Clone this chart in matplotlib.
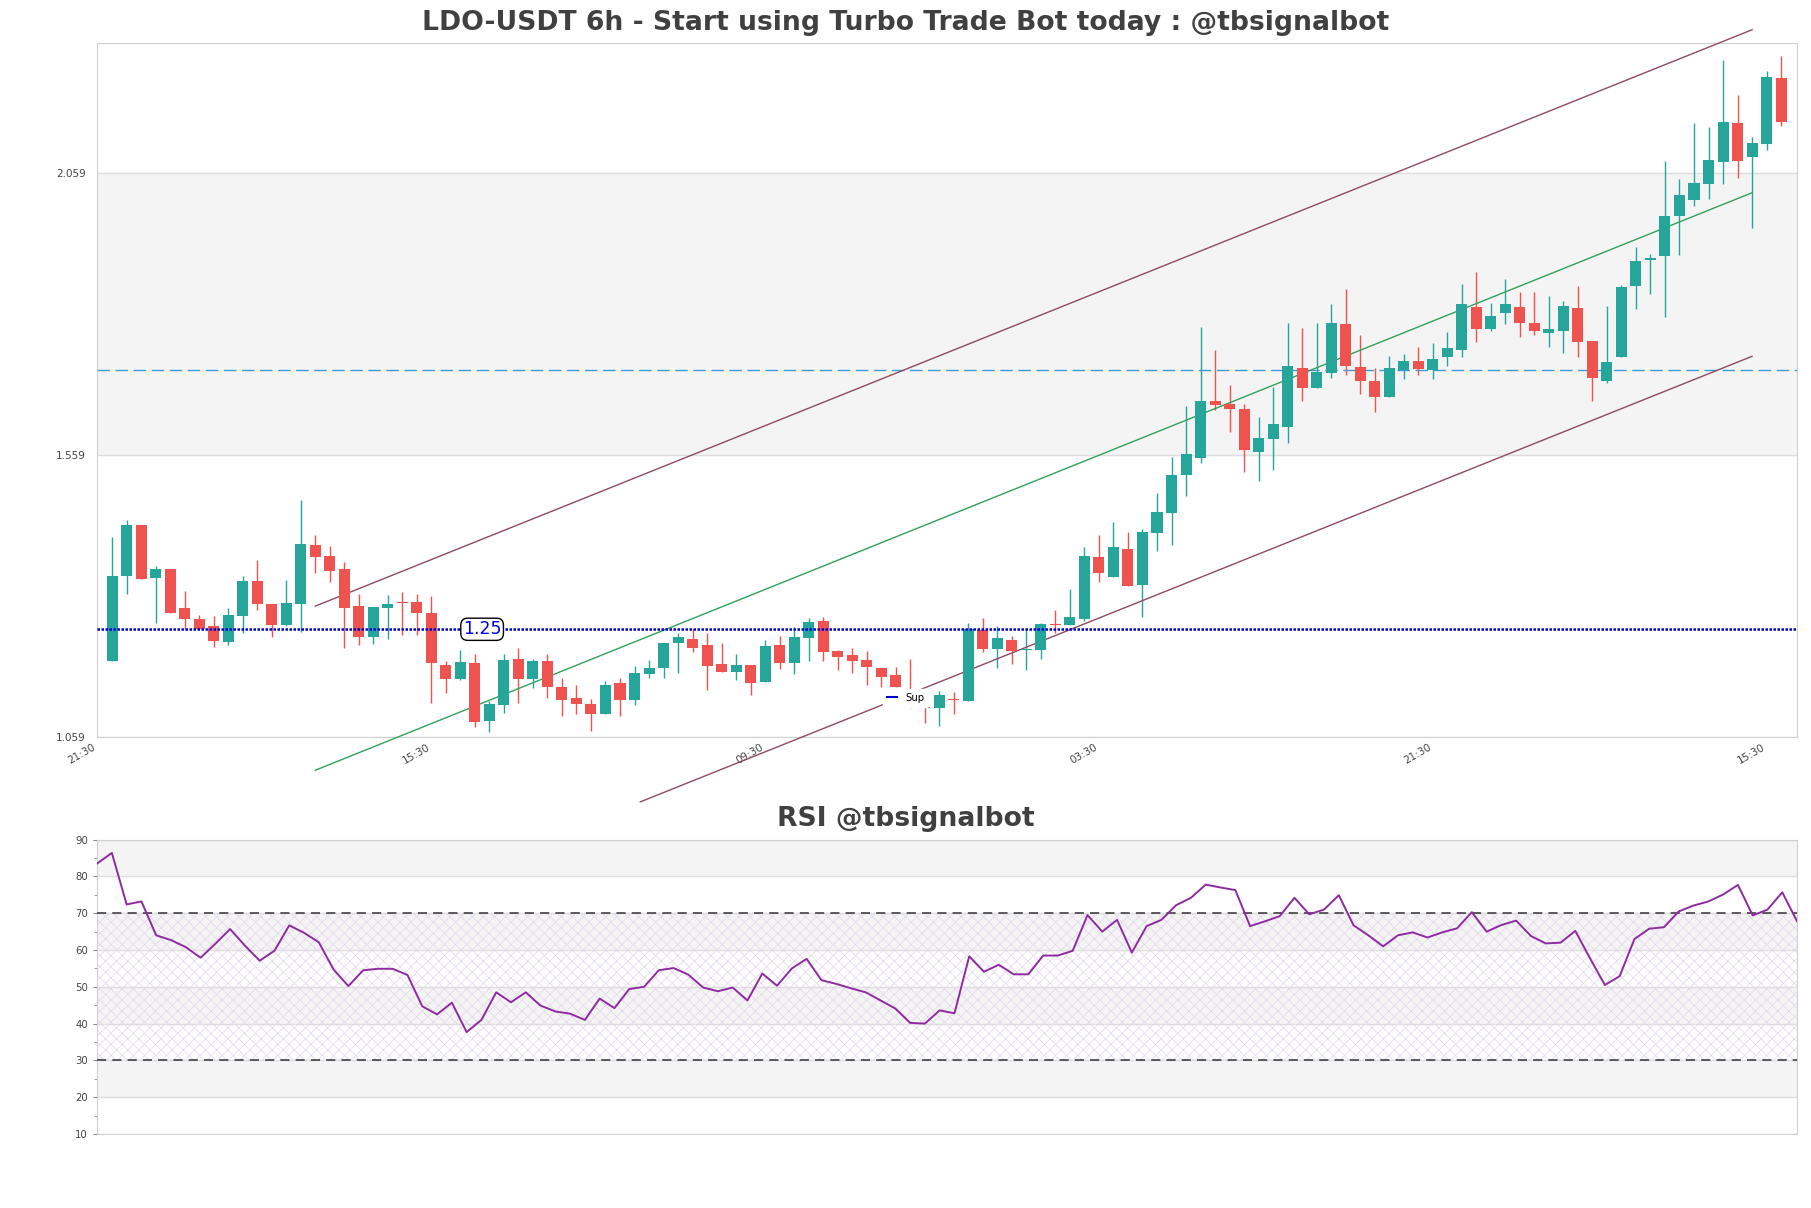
import numpy as np
import matplotlib
matplotlib.use("Agg")
import matplotlib.pyplot as plt
from matplotlib.lines import Line2D

plt.rcParams['hatch.linewidth'] = 0.5

# 6h candles
opens = [1.194, 1.345, 1.435, 1.341, 1.357, 1.288, 1.269, 1.256, 1.228, 1.274,
         1.336, 1.295, 1.258, 1.295, 1.399, 1.380, 1.356, 1.291, 1.236, 1.288,
         1.298, 1.298, 1.279, 1.187, 1.161, 1.190, 1.088, 1.116, 1.197, 1.161,
         1.193, 1.148, 1.128, 1.118, 1.100, 1.154, 1.125, 1.171, 1.181, 1.226,
         1.232, 1.222, 1.188, 1.175, 1.187, 1.157, 1.222, 1.191, 1.235, 1.265,
         1.211, 1.204, 1.196, 1.181, 1.169, 1.134, 1.112, 1.111, 1.127, 1.122,
         1.249, 1.215, 1.231, 1.213, 1.213, 1.259, 1.258, 1.268, 1.378, 1.343,
         1.392, 1.329, 1.420, 1.456, 1.524, 1.554, 1.655, 1.649, 1.641, 1.565,
         1.588, 1.609, 1.713, 1.678, 1.705, 1.791, 1.715, 1.691, 1.662, 1.710,
         1.725, 1.710, 1.733, 1.746, 1.821, 1.782, 1.810, 1.822, 1.793, 1.775,
         1.778, 1.820, 1.761, 1.691, 1.732, 1.859, 1.905, 1.911, 1.982, 2.011,
         2.040, 2.079, 2.147, 2.088, 2.111, 2.228]
highs = [1.414, 1.444, 1.435, 1.362, 1.357, 1.318, 1.275, 1.274, 1.288, 1.344,
         1.373, 1.295, 1.337, 1.479, 1.417, 1.398, 1.369, 1.312, 1.290, 1.311,
         1.316, 1.313, 1.309, 1.193, 1.213, 1.206, 1.122, 1.206, 1.217, 1.197,
         1.207, 1.163, 1.152, 1.127, 1.159, 1.163, 1.185, 1.196, 1.226, 1.244,
         1.250, 1.243, 1.226, 1.206, 1.187, 1.231, 1.238, 1.254, 1.270, 1.272,
         1.214, 1.216, 1.211, 1.181, 1.184, 1.197, 1.112, 1.141, 1.139, 1.262,
         1.270, 1.256, 1.238, 1.252, 1.261, 1.284, 1.321, 1.396, 1.417, 1.440,
         1.423, 1.428, 1.492, 1.556, 1.646, 1.786, 1.745, 1.683, 1.649, 1.627,
         1.679, 1.793, 1.784, 1.793, 1.827, 1.854, 1.772, 1.713, 1.735, 1.738,
         1.751, 1.757, 1.777, 1.862, 1.883, 1.828, 1.871, 1.848, 1.848, 1.841,
         1.832, 1.859, 1.761, 1.823, 1.860, 1.927, 1.915, 2.080, 2.048, 2.147,
         2.140, 2.259, 2.197, 2.122, 2.239, 2.266]
lows = [1.194, 1.313, 1.340, 1.262, 1.278, 1.250, 1.251, 1.219, 1.223, 1.243,
        1.285, 1.236, 1.256, 1.245, 1.350, 1.333, 1.216, 1.223, 1.224, 1.233,
        1.239, 1.239, 1.120, 1.137, 1.160, 1.077, 1.068, 1.102, 1.119, 1.146,
        1.129, 1.097, 1.099, 1.069, 1.100, 1.097, 1.115, 1.164, 1.163, 1.172,
        1.210, 1.142, 1.174, 1.160, 1.134, 1.157, 1.180, 1.170, 1.194, 1.194,
        1.177, 1.173, 1.152, 1.148, 1.148, 1.110, 1.084, 1.079, 1.099, 1.122,
        1.210, 1.181, 1.188, 1.178, 1.197, 1.243, 1.258, 1.265, 1.334, 1.342,
        1.326, 1.271, 1.389, 1.399, 1.487, 1.544, 1.639, 1.600, 1.528, 1.513,
        1.532, 1.580, 1.655, 1.677, 1.695, 1.700, 1.668, 1.636, 1.662, 1.693,
        1.700, 1.693, 1.717, 1.733, 1.760, 1.778, 1.791, 1.768, 1.772, 1.750,
        1.740, 1.732, 1.655, 1.686, 1.732, 1.817, 1.845, 1.804, 1.914, 2.001,
        2.013, 2.040, 2.051, 1.962, 2.099, 2.143]
closes = [1.345, 1.435, 1.340, 1.357, 1.279, 1.269, 1.251, 1.230, 1.275, 1.336,
          1.295, 1.258, 1.297, 1.401, 1.379, 1.354, 1.288, 1.237, 1.290, 1.294,
          1.296, 1.278, 1.190, 1.161, 1.192, 1.086, 1.118, 1.196, 1.161, 1.193,
          1.148, 1.125, 1.118, 1.099, 1.151, 1.124, 1.173, 1.181, 1.226, 1.236,
          1.217, 1.185, 1.175, 1.187, 1.155, 1.220, 1.191, 1.236, 1.263, 1.210,
          1.201, 1.194, 1.184, 1.166, 1.148, 1.125, 1.111, 1.133, 1.125, 1.250,
          1.215, 1.234, 1.212, 1.215, 1.259, 1.257, 1.272, 1.380, 1.350, 1.395,
          1.327, 1.423, 1.458, 1.524, 1.561, 1.655, 1.648, 1.641, 1.567, 1.589,
          1.614, 1.717, 1.678, 1.706, 1.793, 1.716, 1.691, 1.662, 1.713, 1.725,
          1.712, 1.730, 1.748, 1.827, 1.782, 1.805, 1.826, 1.793, 1.778, 1.783,
          1.823, 1.760, 1.696, 1.724, 1.856, 1.903, 1.908, 1.983, 2.020, 2.041,
          2.082, 2.150, 2.081, 2.113, 2.229, 2.150]

rsi = [83.5, 86.4, 72.4, 73.2, 64.0, 62.7, 60.8, 57.9, 61.7, 65.7,
       61.2, 57.1, 59.8, 66.7, 64.7, 62.1, 54.7, 50.2, 54.5, 54.9,
       54.9, 53.2, 44.7, 42.5, 45.7, 37.7, 41.0, 48.5, 45.8, 48.5,
       44.9, 43.3, 42.7, 41.0, 46.8, 44.2, 49.4, 50.0, 54.5, 55.1,
       53.3, 49.8, 48.8, 49.8, 46.3, 53.6, 50.3, 55.0, 57.6, 51.8,
       50.8, 49.6, 48.5, 46.3, 44.1, 40.2, 40.0, 43.6, 42.8, 58.3,
       54.1, 56.0, 53.4, 53.4, 58.5, 58.5, 59.8, 69.5, 65.0, 68.2,
       59.3, 66.5, 68.2, 72.2, 74.2, 77.8, 77.0, 76.3, 66.5, 67.8,
       69.2, 74.2, 69.7, 71.0, 74.9, 66.7, 64.0, 61.0, 64.0, 64.8,
       63.4, 64.8, 65.9, 70.3, 65.0, 66.8, 68.0, 63.8, 61.8, 62.0,
       65.2, 57.7, 50.5, 52.9, 63.0, 65.8, 66.2, 70.5, 72.1, 73.2,
       75.1, 77.7, 69.4, 71.0, 75.7, 67.8]

# levels / trend channel
support = 1.25
resistance = 1.7097
chan_x = [14, 113]
chan_mid = [1.000, 2.024]
chan_up = [1.291, 2.313]
chan_low_x = [36.4, 113]
chan_low = [0.944, 1.734]

price_ticks = [1.059, 1.559, 2.059]
tick_pos = [-1, 22, 45, 68, 91, 114]
tick_lbl = ['21:30', '15:30', '09:30', '03:30', '21:30', '15:30']
rsi_ticks = [10, 20, 30, 40, 50, 60, 70, 80, 90]

UP, DOWN = '#26a69a', '#ef5350'
GRID = '#dedede'
SPINE = '#d0d0d0'
BAND = '#f4f4f4'
TXT = '#444444'

fig = plt.figure(figsize=(18.11, 12.08), dpi=100)
ax = fig.add_axes([0.0536, 0.3899, 0.9387, 0.5745])
ax2 = fig.add_axes([0.0536, 0.0613, 0.9387, 0.2436])

o = np.array(opens); h = np.array(highs); l = np.array(lows); c = np.array(closes)
x = np.arange(len(o))
col = np.where(c >= o, UP, DOWN)

ax.axhspan(1.559, 2.059, color=BAND, zorder=0)
ax.vlines(x, l, h, colors=col, lw=1.0, zorder=3)
body = np.maximum(np.abs(c - o), 0.002)
ax.bar(x, body, bottom=np.minimum(o, c), width=0.76, color=col, lw=0, zorder=4)

ax.axhline(support, color='#0000cc', lw=1.8, ls=(0, (1, 0.6)), zorder=5)
ax.axhline(resistance, color='#3b9bd6', lw=1.0, ls=(0, (9, 4)), zorder=2)
ax.text(25.5, support, '1.25', color='#0000dd', fontsize=12.5, ha='center', va='center', zorder=6,
        bbox=dict(boxstyle='round,pad=0.12,rounding_size=0.4', fc='white', ec='black', lw=1))

ax.plot(chan_x, chan_up, color='#8c4b60', lw=1.0, clip_on=False, zorder=3)
ax.plot(chan_x, chan_mid, color='#32a05c', lw=1.0, clip_on=False, zorder=3)
ax.plot(chan_low_x, chan_low, color='#8c4b60', lw=1.0, clip_on=False, zorder=3)

ax.set_xlim(-1.03, 116.1)
ax.set_ylim(1.059, 2.2895)
ax.set_yticks(price_ticks)
ax.set_yticklabels([f'{t:.3f}' for t in price_ticks])
ax.set_xticks(tick_pos)
ax.set_xticklabels(tick_lbl, rotation=30, ha='right')
ax.tick_params(length=0, labelsize=7.5, labelcolor=TXT)
ax.tick_params(axis='y', pad=8)
ax.grid(axis='y', color=GRID, lw=1)
ax.set_axisbelow(True)
for s in ax.spines.values():
    s.set_color(SPINE)

# RSI panel
xr = np.arange(len(rsi))
for lo, hi in [(20, 30), (40, 50), (60, 70), (80, 90)]:
    ax2.axhspan(lo, hi, color=BAND, zorder=0)
ax2.fill_between([0, len(rsi) - 1], 30, 70, facecolor='none', edgecolor='#e2d6ea',
                 hatch='xxx', lw=0, zorder=1)
ax2.axhline(70, color='#333333', lw=1.1, ls=(0, (6, 4)), zorder=3)
ax2.axhline(30, color='#333333', lw=1.1, ls=(0, (6, 4)), zorder=3)
ax2.plot(xr, rsi, color='#8e2ba0', lw=1.4, zorder=4)
ax2.set_xlim(0, len(rsi) - 1)
ax2.set_ylim(10, 90)
ax2.set_yticks(rsi_ticks)
ax2.set_yticks(np.arange(15, 90, 10), minor=True)
ax2.set_xticks([])
ax2.tick_params(axis='y', which='both', labelsize=7.3, labelcolor=TXT, color='#888888', length=3)
ax2.tick_params(axis='y', which='minor', length=2)
ax2.grid(axis='y', color=GRID, lw=1)
ax2.set_axisbelow(True)
for s in ax2.spines.values():
    s.set_color(SPINE)

fig.text(0.5, 0.981, 'LDO-USDT 6h - Start using Turbo Trade Bot today : @tbsignalbot',
         ha='center', va='center', fontsize=19.2, fontweight='bold', color='#404040')
fig.text(0.5, 0.322, 'RSI @tbsignalbot', ha='center', va='center',
         fontsize=19.2, fontweight='bold', color='#404040')

fig.legend(handles=[Line2D([], [], color='#0000cc', lw=1.5)], labels=['Sup'],
           loc='center', bbox_to_anchor=(0.5, 1 - 698 / 1208), fontsize=7.3,
           frameon=True, facecolor='white', edgecolor='white', framealpha=1,
           handlelength=1.0, handletextpad=0.8, borderpad=0.4)

fig.savefig('out.png', dpi=100)
